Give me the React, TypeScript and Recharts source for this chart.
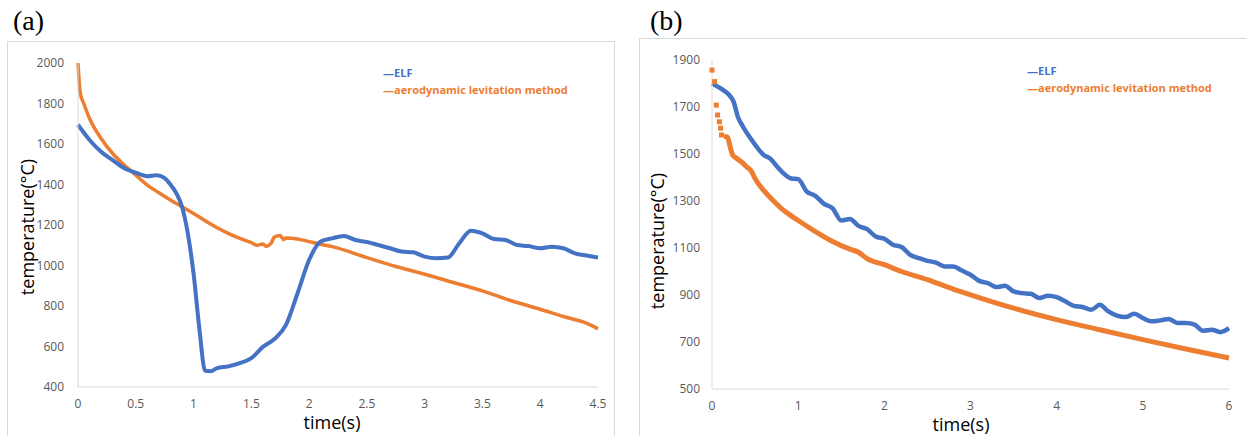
import { ComposedChart, Line, XAxis, YAxis } from 'recharts';

const BLUE = '#4472C4';
const ORANGE = '#ED7D31';
const AXIS_GRAY = '#d9d9d9';
const TICK_GRAY = '#595959';

// panel (a)
const timeTicksA = [0, 0.5, 1, 1.5, 2, 2.5, 3, 3.5, 4, 4.5];
const tempTicksA = [400, 600, 800, 1000, 1200, 1400, 1600, 1800, 2000];
const elfA: [number, number][] = [
  [0, 1695], [0.1, 1620], [0.2, 1562], [0.3, 1520], [0.4, 1480], [0.5, 1458], [0.6, 1441],
  [0.68, 1446], [0.75, 1432], [0.8, 1400], [0.85, 1358], [0.9, 1290], [0.95, 1160], [1.0, 960],
  [1.05, 690], [1.1, 480], [1.15, 478], [1.2, 492], [1.3, 502], [1.4, 518], [1.5, 543],
  [1.6, 598], [1.7, 637], [1.8, 707], [1.9, 863], [2.0, 1027], [2.1, 1118], [2.2, 1134],
  [2.3, 1146], [2.4, 1126], [2.5, 1116], [2.6, 1101], [2.7, 1085], [2.8, 1069], [2.9, 1065],
  [3.0, 1044], [3.1, 1036], [3.2, 1039], [3.3, 1110], [3.4, 1172], [3.5, 1159], [3.6, 1131],
  [3.7, 1126], [3.8, 1101], [3.9, 1096], [4.0, 1085], [4.1, 1093], [4.2, 1085], [4.3, 1060],
  [4.4, 1049], [4.5, 1039],
];
const aeroA: [number, number][] = [
  [0, 2000], [0.02, 1850], [0.05, 1800], [0.1, 1726], [0.2, 1627], [0.3, 1553], [0.4, 1496],
  [0.5, 1446], [0.6, 1397], [0.7, 1359], [0.8, 1323], [0.9, 1290], [1.0, 1257], [1.1, 1221],
  [1.2, 1188], [1.3, 1159], [1.4, 1134], [1.5, 1113], [1.55, 1100], [1.6, 1106], [1.63, 1095],
  [1.67, 1110], [1.7, 1140], [1.75, 1148], [1.78, 1128], [1.8, 1136], [1.9, 1131], [2.0, 1118],
  [2.1, 1105], [2.2, 1093], [2.5, 1039], [2.75, 995], [3.0, 957], [3.25, 916], [3.5, 875],
  [3.75, 826], [4.0, 784], [4.2, 748], [4.4, 715], [4.5, 687],
];

// panel (b)
const timeTicksB = [0, 1, 2, 3, 4, 5, 6];
const tempTicksB = [500, 700, 900, 1100, 1300, 1500, 1700, 1900];
const elfB: [number, number][] = [
  [0, 1800], [0.13, 1772], [0.2, 1751], [0.25, 1723], [0.3, 1659], [0.36, 1616], [0.46, 1560],
  [0.6, 1496], [0.67, 1482], [0.79, 1432], [0.92, 1396], [1.0, 1393], [1.1, 1340], [1.2, 1322],
  [1.3, 1288], [1.4, 1269], [1.5, 1217], [1.6, 1223], [1.7, 1194], [1.8, 1180], [1.9, 1149],
  [2.0, 1139], [2.1, 1114], [2.2, 1104], [2.3, 1071], [2.4, 1057], [2.5, 1045], [2.6, 1038],
  [2.7, 1021], [2.8, 1021], [2.9, 1004], [3.0, 986], [3.1, 960], [3.2, 951], [3.3, 934],
  [3.4, 939], [3.5, 915], [3.6, 908], [3.7, 905], [3.8, 887], [3.9, 897], [4.0, 891],
  [4.1, 873], [4.2, 854], [4.3, 849], [4.4, 837], [4.5, 858], [4.6, 830], [4.7, 812],
  [4.8, 806], [4.9, 820], [5.0, 802], [5.1, 788], [5.2, 792], [5.3, 798], [5.4, 781],
  [5.5, 781], [5.6, 774], [5.7, 748], [5.8, 752], [5.9, 742], [6.0, 759],
];
const aeroStartB: [number, number][] = [
  [0, 1857], [0.03, 1808], [0.05, 1708], [0.065, 1666], [0.085, 1637], [0.1, 1610], [0.11, 1581],
];
const aeroB: [number, number][] = [
  [0.14, 1574], [0.18, 1572], [0.2, 1547], [0.22, 1517], [0.24, 1496], [0.28, 1483],
  [0.34, 1467], [0.4, 1446], [0.46, 1425], [0.5, 1395], [0.6, 1345], [0.7, 1305], [0.8, 1270],
  [0.9, 1242], [1.0, 1217], [1.2, 1170], [1.4, 1128], [1.6, 1095], [1.7, 1082], [1.8, 1055],
  [2.0, 1029], [2.2, 1000], [2.5, 965], [2.8, 925], [3.0, 901], [3.5, 844], [4.0, 795],
  [4.5, 752], [5.0, 710], [5.5, 670], [6.0, 632],
];

const toPoints = (rows: [number, number][]) => rows.map(([t, v]) => ({ t, v }));

const tickStyle = { fill: TICK_GRAY, fontSize: 12, fontFamily: 'Open Sans' };

const squareDot = (props: any) => {
  const { cx, cy, index } = props;
  return <rect key={`sq-${index}`} x={cx - 2.5} y={cy - 2.5} width={5} height={5} fill={ORANGE} />;
};

function LegendBox({ left, top }: { left: number; top: number }) {
  const style = { fontFamily: 'Open Sans', fontWeight: 700, fontSize: 11, lineHeight: '17px' };
  return (
    <div style={{ position: 'absolute', left, top }}>
      <div style={{ ...style, color: BLUE }}>—ELF</div>
      <div style={{ ...style, color: ORANGE }}>—aerodynamic levitation method</div>
    </div>
  );
}

const titleStyle = { position: 'absolute' as const, fontFamily: 'Open Sans', fontSize: 18, color: '#000', whiteSpace: 'nowrap' as const, lineHeight: '16px' };

export default function App() {
  return (
    <div style={{ position: 'absolute', left: 0, top: 0, width: 1246, height: 436, background: '#fff', overflow: 'hidden' }}>
      <div style={{ position: 'absolute', left: 13, top: 5, fontFamily: 'Liberation Serif', fontSize: 28, lineHeight: '32px' }}>(a)</div>
      <div style={{ position: 'absolute', left: 650, top: 5, fontFamily: 'Liberation Serif', fontSize: 28, lineHeight: '32px' }}>(b)</div>

      {/* panel (a) frame */}
      <div style={{ position: 'absolute', left: 7, top: 41, width: 606, height: 400, borderTop: `1px solid ${AXIS_GRAY}`, borderLeft: `1px solid ${AXIS_GRAY}`, borderRight: `1px solid ${AXIS_GRAY}` }} />
      <div style={{ position: 'absolute', left: 8, top: 42 }}>
        <ComposedChart width={605} height={394} margin={{ top: 21, right: 15, bottom: 19, left: 0 }}>
          <XAxis
            type="number"
            dataKey="t"
            domain={[0, 4.5]}
            ticks={timeTicksA}
            stroke={AXIS_GRAY}
            tickLine={false}
            tickSize={0}
            tickMargin={12}
            tick={tickStyle}
            interval={0}
          />
          <YAxis
            type="number"
            dataKey="v"
            domain={[400, 2000]}
            ticks={tempTicksA}
            width={70}
            stroke={AXIS_GRAY}
            tickLine={false}
            tickSize={0}
            tickMargin={14}
            tick={tickStyle}
            interval={0}
          />
          <Line data={toPoints(aeroA)} dataKey="v" type="monotone" stroke={ORANGE} strokeWidth={3.5} dot={false} activeDot={false} isAnimationActive={false} />
          <Line data={toPoints(elfA)} dataKey="v" type="monotone" stroke={BLUE} strokeWidth={4} dot={false} activeDot={false} isAnimationActive={false} />
        </ComposedChart>
      </div>
      <div style={{ ...titleStyle, left: 27, top: 227, transform: 'translate(-50%, -50%) rotate(-90deg)' }}>temperature(°C)</div>
      <div style={{ ...titleStyle, left: 332, top: 422, transform: 'translate(-50%, -50%)' }}>time(s)</div>
      <LegendBox left={383} top={64} />

      {/* panel (b) frame */}
      <div style={{ position: 'absolute', left: 639, top: 38, width: 620, height: 410, borderTop: `1px solid ${AXIS_GRAY}`, borderLeft: `1px solid ${AXIS_GRAY}` }} />
      <div style={{ position: 'absolute', left: 640, top: 39 }}>
        <ComposedChart width={606} height={397} margin={{ top: 21, right: 17, bottom: 17, left: 0 }}>
          <XAxis
            type="number"
            dataKey="t"
            domain={[0, 6]}
            ticks={timeTicksB}
            stroke={AXIS_GRAY}
            tickLine={false}
            tickSize={0}
            tickMargin={12}
            tick={tickStyle}
            interval={0}
          />
          <YAxis
            type="number"
            dataKey="v"
            domain={[500, 1900]}
            ticks={tempTicksB}
            width={72}
            stroke={AXIS_GRAY}
            tickLine={false}
            tickSize={0}
            tickMargin={12}
            tick={tickStyle}
            interval={0}
          />
          <Line data={toPoints(aeroB)} dataKey="v" type="monotone" stroke={ORANGE} strokeWidth={5} dot={false} activeDot={false} isAnimationActive={false} />
          <Line data={toPoints(aeroStartB)} dataKey="v" stroke="none" dot={squareDot} activeDot={false} isAnimationActive={false} />
          <Line data={toPoints(elfB)} dataKey="v" type="monotone" stroke={BLUE} strokeWidth={4.5} dot={false} activeDot={false} isAnimationActive={false} />
        </ComposedChart>
      </div>
      <div style={{ ...titleStyle, left: 657, top: 241, transform: 'translate(-50%, -50%) rotate(-90deg)' }}>temperature(°C)</div>
      <div style={{ ...titleStyle, left: 961, top: 424, transform: 'translate(-50%, -50%)' }}>time(s)</div>
      <LegendBox left={1027} top={62} />
    </div>
  );
}
